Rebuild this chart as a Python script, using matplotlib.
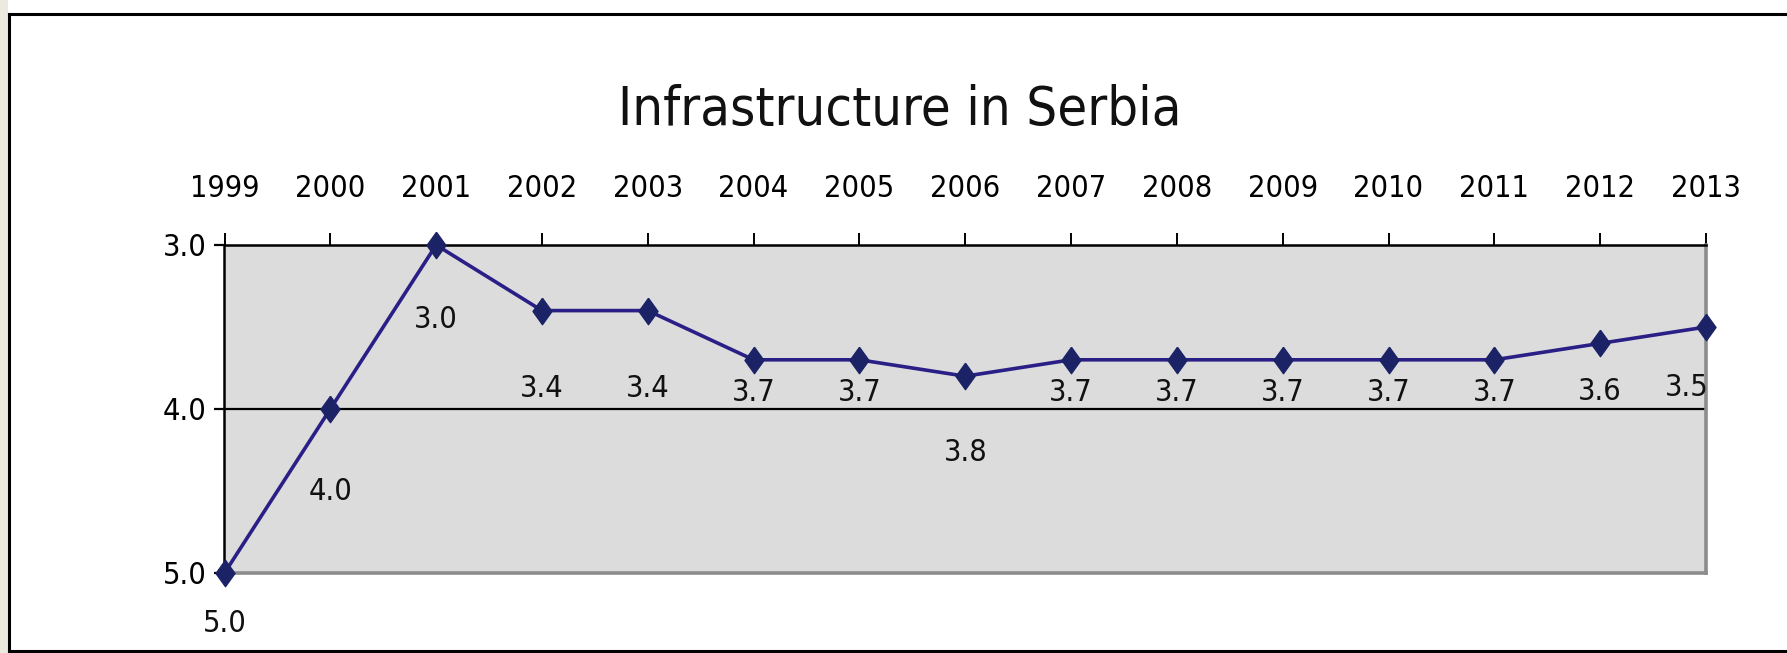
import matplotlib
matplotlib.use("Agg")
import matplotlib.pyplot as plt
from matplotlib.lines import Line2D
from matplotlib.patches import Rectangle

#==================================================================================

years = [1999, 2000, 2001, 2002, 2003, 2004, 2005, 2006, 2007, 2008, 2009, 2010, 2011, 2012, 2013]
scores = [5.0, 4.0, 3.0, 3.4, 3.4, 3.7, 3.7, 3.8, 3.7, 3.7, 3.7, 3.7, 3.7, 3.6, 3.5]
y_ticks = [3.0, 4.0, 5.0]
title = "Infrastructure in Serbia"

# label offsets below each marker (pixels), as placed in the original
label_dy = [51, 82, 74, 78, 78, 33, 33, 76, 33, 33, 33, 33, 33, 48, 60]
label_dx = [0, 0, 0, 0, 0, 0, 0, 0, 0, 0, 0, 0, 0, 0, -19]

W, H = 1787, 653

plt.rcParams['font.family'] = ['DejaVu Sans']
plt.rcParams['font.stretch'] = 'condensed'

fig = plt.figure(figsize=(W / 100, H / 100), dpi=100)
fig.patch.set_facecolor('white')

# beige strip on the left and the outer frame
fig.add_artist(Rectangle((0, 0), 8 / W, 1, transform=fig.transFigure,
                         facecolor='#ecE9df', edgecolor='none'))
frame_kw = dict(transform=fig.transFigure, color='black', linewidth=2.2)
fig.add_artist(Line2D([9 / W, 1], [1 - 14 / H, 1 - 14 / H], **frame_kw))
fig.add_artist(Line2D([9 / W, 9 / W], [1 - 14 / H, 1 - 651 / H], **frame_kw))
fig.add_artist(Line2D([9 / W, 1], [1 - 651 / H, 1 - 651 / H], **frame_kw))

ax = fig.add_axes([224.5 / W, 1 - 573 / H, (1706 - 224.5) / W, (573 - 245) / H])
ax.set_facecolor('#dcdcdc')

diamond = [(0, 1), (0.72, 0), (0, -1), (-0.72, 0), (0, 1)]
ax.plot(years, scores, color='#2a1f86', linewidth=2.6, marker=diamond,
        markersize=19, markerfacecolor='#1b2366', markeredgecolor='#1b2366',
        clip_on=False, zorder=5)

for x, y, dx, dy in zip(years, scores, label_dx, label_dy):
    ax.annotate(f"{y:.1f}", (x, y), xytext=(dx * 0.72, -dy * 0.72),
                textcoords='offset points', ha='center', va='center',
                fontsize=22, color='#111111', zorder=6)

ax.axhline(4.0, color='black', linewidth=1.6, zorder=2)

ax.set_xlim(years[0], years[-1])
ax.set_ylim(5, 3)
ax.set_xticks(years)
ax.set_xticklabels([str(y) for y in years])
ax.set_yticks(y_ticks)
ax.set_yticklabels([f"{t:.1f}" for t in y_ticks])

ax.xaxis.tick_top()
ax.tick_params(axis='x', direction='out', length=9, width=1.4, pad=21,
               labelsize=22, colors='black')
ax.tick_params(axis='y', direction='out', length=7, width=1.6, pad=6,
               labelsize=22, colors='black')

for side in ['top', 'left']:
    ax.spines[side].set_color('black')
    ax.spines[side].set_linewidth(1.8)
for side in ['right', 'bottom']:
    ax.spines[side].set_color('#8c8c8c')
    ax.spines[side].set_linewidth(2.6)

fig.text(900 / W, 1 - 110 / H, title, ha='center', va='center',
         fontsize=39, color='#111111')

plt.savefig('out.png', dpi=100)
